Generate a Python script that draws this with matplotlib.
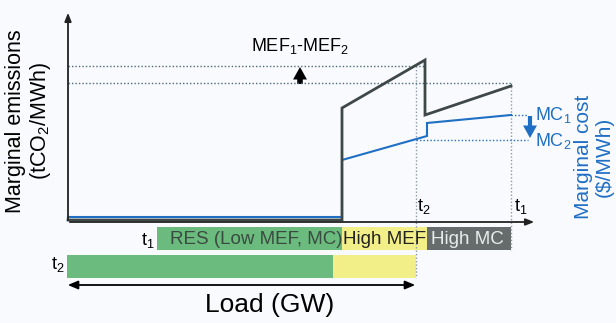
import matplotlib
matplotlib.use("Agg")
import matplotlib.pyplot as plt
from matplotlib.patches import FancyArrowPatch

plt.rcParams['font.family'] = ['Liberation Sans', 'DejaVu Sans']
plt.rcParams['mathtext.fontset'] = 'custom'
plt.rcParams['mathtext.rm'] = 'Liberation Sans'
plt.rcParams['mathtext.it'] = 'Liberation Sans'
plt.rcParams['mathtext.default'] = 'regular'

# ---- schematic data (figure-pixel units) ----
x_origin = 68
x_step = 342          # jump from RES to fossil
x_t2 = 416            # load at t2
x_peak = 425          # end of high-MEF segment
x_t1 = 511            # load at t1
x_axis_end = 537

# marginal emission curve (grey)
mef_x = [x_origin, x_step, x_step, x_peak, x_peak, x_t1]
mef_y = [220, 220, 108, 60, 115, 86]
# marginal cost curve (blue)
mc_x = [x_origin, x_step, x_step, 427, 427, x_t1]
mc_y = [217, 217, 160, 136, 123, 115]

mef1, mef2 = 66, 83
mc1, mc2 = 115, 140

# generation stack bars
row1_start = [157, 342, 427]
row1_end = [342, 427, 511]
row1_colors = ['#6cbb7e', '#f3ef88', '#666c6c']
row1_labels = ['RES (Low MEF, MC)', 'High MEF', 'High MC']
row2_start = [67, 333]
row2_end = [333, 416]
row2_colors = ['#6cbb7e', '#f3ef88']

axis_y = 222

grey = '#3e4847'
blue = '#1f6fc4'

fig = plt.figure(figsize=(6.16, 3.23), dpi=100)
fig.patch.set_facecolor('#f9fafd')
ax = fig.add_axes([0, 0, 1, 1])
ax.set_xlim(0, 616)
ax.set_ylim(323, 0)
ax.axis('off')

# axes arrows
ax.annotate('', xy=(x_origin, 10), xytext=(x_origin, axis_y + 1),
            arrowprops=dict(arrowstyle='-|>,head_length=0.5,head_width=0.2', color='#222', lw=1.3))
ax.annotate('', xy=(x_axis_end, axis_y), xytext=(x_origin - 1, axis_y),
            arrowprops=dict(arrowstyle='-|>,head_length=0.5,head_width=0.2', color='#222', lw=1.3))

# dotted guide lines
dot = dict(ls=(0, (1, 1.5)), lw=1.0)
ax.plot([x_origin, x_peak], [mef1, mef1], color='#4a6a7a', **dot)
ax.plot([x_origin, x_t1], [mef2, mef2], color='#4a6a7a', **dot)
ax.plot([x_t2, x_t2], [mef1, 278], color='#8a9aa5', **dot)
ax.plot([x_t1, x_t1], [mef2, 250], color='#8a9aa5', **dot)
ax.plot([x_t1, 528], [mc1, mc1], color=blue, **dot)
ax.plot([x_t2, 528], [mc2, mc2], color=blue, **dot)

# curves
ax.plot(mc_x, mc_y, color=blue, lw=1.5, solid_joinstyle='miter')
ax.plot(mef_x, mef_y, color=grey, lw=2.0, solid_joinstyle='miter')

# change arrows
ax.add_patch(FancyArrowPatch((300, mef2 + 1), (300, mef1 + 1),
             arrowstyle='simple,head_length=0.9,head_width=1.0,tail_width=0.4',
             mutation_scale=10, color='black', lw=0, shrinkA=0, shrinkB=0))
ax.add_patch(FancyArrowPatch((530, mc1 + 1), (530, mc2 - 2),
             arrowstyle='simple,head_length=0.9,head_width=1.0,tail_width=0.3',
             mutation_scale=10, color=blue, lw=0, shrinkA=0, shrinkB=0))

# text labels on the plot
ax.text(300, 46, r'MEF$_1$-MEF$_2$', ha='center', va='center', fontsize=13, color='black')
ax.text(535, 115, r'MC$_1$', ha='left', va='center', fontsize=13, color=blue)
ax.text(535, 141, r'MC$_2$', ha='left', va='center', fontsize=13, color=blue)
ax.text(x_t2 + 1, 206, r't$_2$', ha='left', va='center', fontsize=13)
ax.text(x_t1 + 3, 206, r't$_1$', ha='left', va='center', fontsize=13)

# y labels
ax.text(29, 121, 'Marginal emissions\n(tCO$_2$/MWh)', rotation=90, ha='center', va='center',
        fontsize=15.5, linespacing=1.1)
ax.text(594, 157, 'Marginal cost\n($/MWh)', rotation=90, ha='center', va='center',
        fontsize=15, color=blue, linespacing=1.1)

# generation stack rows
for s, e, c in zip(row1_start, row1_end, row1_colors):
    ax.fill_between([s, e], 227, 250, color=c, lw=0)
tc = ['#3a4a40', '#222222', '#e8ecec']
ax.text(row1_start[0] + 13, 239, row1_labels[0], ha='left', va='center', fontsize=13.5, color=tc[0])
ax.text(row1_start[1] + 1, 239, row1_labels[1], ha='left', va='center', fontsize=13.5, color=tc[1])
ax.text(row1_start[2] + 4, 239, row1_labels[2], ha='left', va='center', fontsize=13.5, color=tc[2])
for s, e, c in zip(row2_start, row2_end, row2_colors):
    ax.fill_between([s, e], 255, 278, color=c, lw=0)

ax.text(141, 240, r't$_1$', ha='left', va='center', fontsize=13)
ax.text(51, 265, r't$_2$', ha='left', va='center', fontsize=13)

# load arrow
ax.add_patch(FancyArrowPatch((65, 285), (418, 285),
             arrowstyle='<|-|>,head_length=6,head_width=2.5', color='black', lw=1.3))
ax.text(270, 305, 'Load (GW)', ha='center', va='center', fontsize=19)

fig.savefig('out.png', dpi=100, facecolor=fig.get_facecolor())
